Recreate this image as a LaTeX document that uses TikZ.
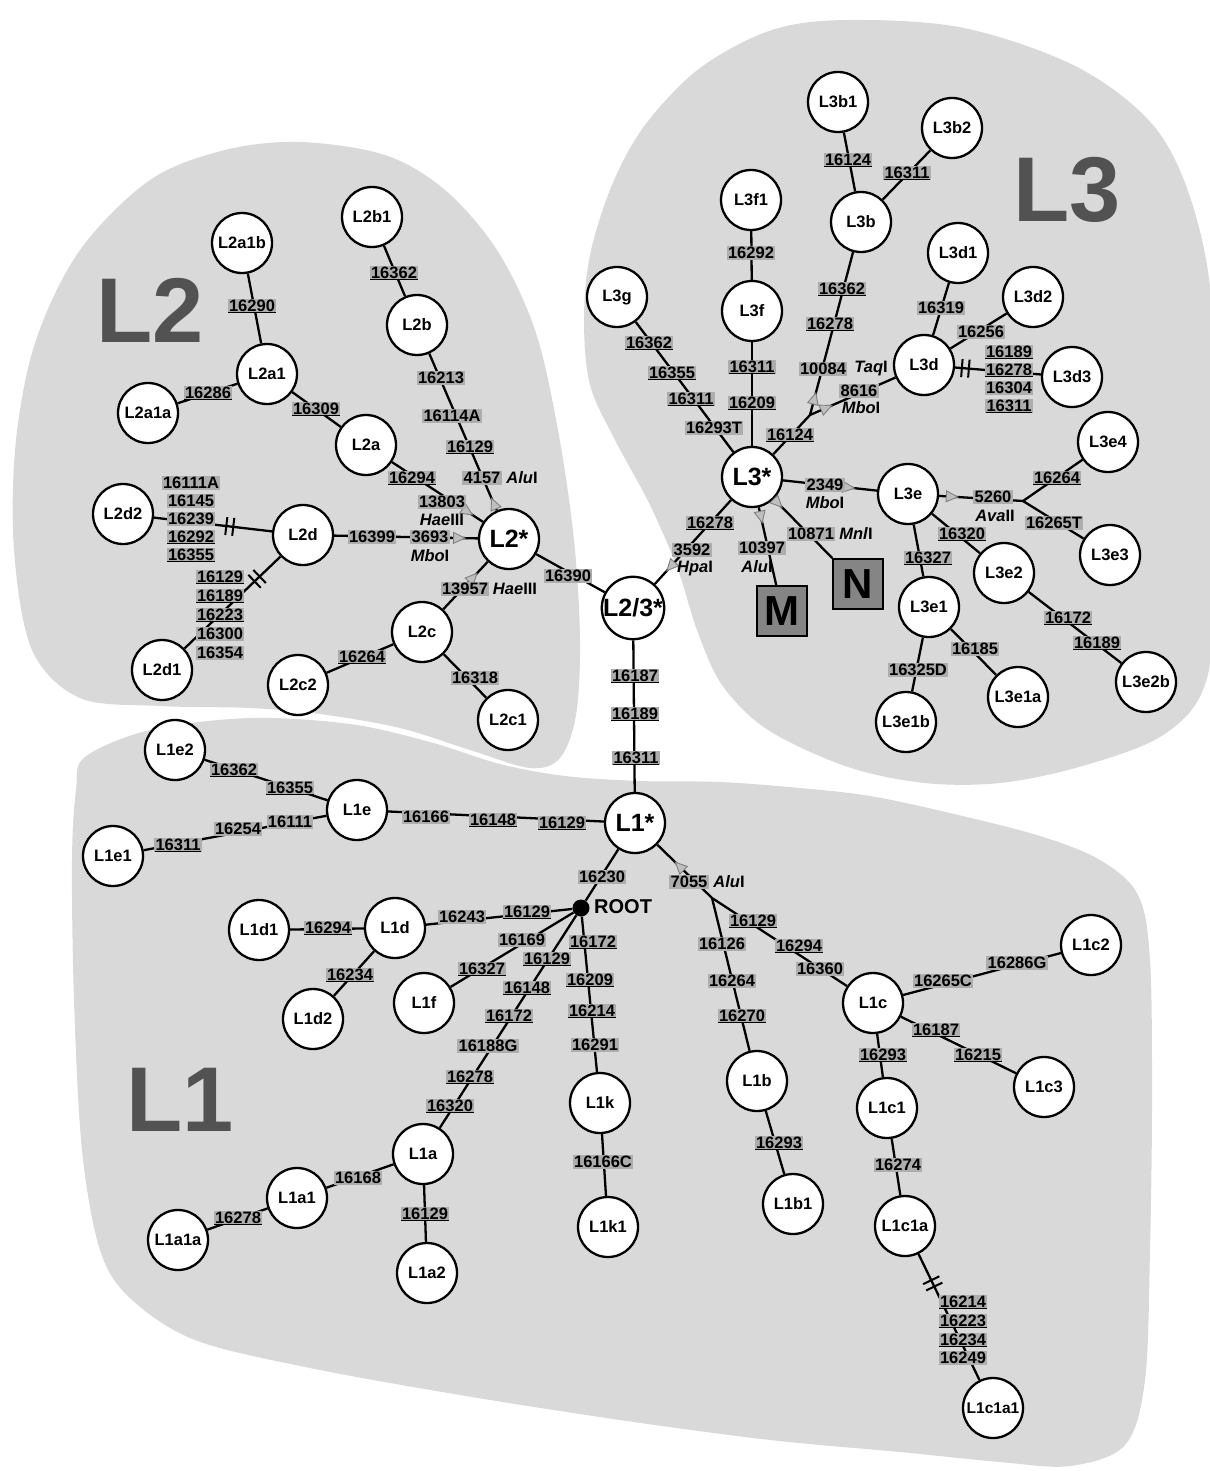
\documentclass[tikz,border=0pt]{standalone}
\usepackage{fontspec}
\setmainfont{Liberation Sans}
\usetikzlibrary{arrows.meta,decorations.markings}

\begin{document}
\begin{tikzpicture}[x=1pt,y=-1pt,
  hap/.style={circle, draw, line width=2.3pt, fill=white, minimum size=60pt, inner sep=0pt,
    font=\fontsize{16.5}{18}\selectfont\bfseries},
  star/.style={hap, font=\fontsize{25}{27}\selectfont\bfseries},
  rootdot/.style={circle, fill=black, minimum size=17pt, inner sep=0pt},
  edge/.style={line width=2.3pt},
  mutn/.style={fill=black!32, inner xsep=1.2pt, inner ysep=1.5pt,
    font=\fontsize{16.5}{18}\selectfont\bfseries},
  mutu/.style={mutn, path picture={\draw[line width=1.4pt]
    ([xshift=0.5pt,yshift=1.1pt]path picture bounding box.south west) --
    ([xshift=-0.5pt,yshift=1.1pt]path picture bounding box.south east);}},
  enz/.style={inner sep=1pt, font=\fontsize{16.5}{18}\selectfont\bfseries},
  sqbox/.style={draw, line width=2pt, fill=black!48, minimum size=50pt, inner sep=0pt,
    font=\fontsize{42}{42}\selectfont\bfseries},
  clade/.style={text=black!68, inner sep=0pt, font=\fontsize{92}{92}\selectfont\bfseries},
  blob/.style={fill=black!15},
  tmark/.style={postaction={decorate, decoration={markings, mark=at position #1 with
    {\arrow{Triangle[length=13pt,width=12pt,fill=black!25,color=black!50,line width=0.9pt]}}}}},
  tmarkrev/.style={postaction={decorate, decoration={markings, mark=at position #1 with
    {\arrowreversed{Triangle[length=13pt,width=12pt,fill=black!25,color=black!50,line width=0.9pt]}}}}},
  cutmark/.style={postaction={decorate, decoration={markings, mark=at position #1 with
    {\draw[line width=2pt] (-3.5pt,-9pt) -- (-3.5pt,9pt) (3.5pt,-9pt) -- (3.5pt,9pt);}}}},
]
\useasboundingbox (0,0) rectangle (1209,1471);

% shaded clade regions
\fill[blob] plot[smooth cycle, tension=0.55] coordinates {
  (848,20) (964,28) (1079,68) (1157,130) (1197,220) (1214,340) (1214,600) (1203,690)
  (1160,737) (1079,767) (1000,783) (925,783) (848,767) (768,730) (722,685) (697,630)
  (678,570) (650,505) (615,440) (590,385) (584,320) (590,255) (612,185) (645,125)
  (700,68) (772,30)};
\fill[blob] plot[smooth cycle, tension=0.55] coordinates {
  (300,142) (385,155) (445,190) (497,250) (535,330) (558,430) (574,540) (580,640)
  (576,715) (560,758) (530,768) (470,750) (400,728) (320,714) (250,708) (160,706)
  (80,698) (32,650) (14,550) (16,440) (36,340) (80,250) (150,180) (225,150)};
\fill[blob] plot[smooth cycle, tension=0.55] coordinates {
  (85,757) (150,730) (250,718) (350,724) (430,742) (500,764) (565,776) (640,781)
  (720,782) (800,788) (870,796) (950,813) (1040,836) (1100,860) (1138,895) (1150,960)
  (1152,1100) (1150,1250) (1145,1380) (1125,1445) (1070,1466) (1000,1462) (900,1452)
  (770,1440) (620,1420) (460,1395) (310,1368) (195,1340) (130,1298) (100,1250)
  (82,1150) (74,1000) (72,860) (76,790)};

% clade names
\node[clade] (cL2) at (150,310) {L2};
\node[clade] (cL3) at (1067,190) {L3};
\node[clade] (cL1) at (180,1100) {L1};

% L2 haplogroups
\node[hap] (L2a1b) at (242,243) {L2a1b};
\node[hap] (L2b1) at (372,217) {L2b1};
\node[hap] (L2b) at (417,325) {L2b};
\node[hap] (L2a1) at (267,374) {L2a1};
\node[hap] (L2a1a) at (148,413) {L2a1a};
\node[hap] (L2a) at (366,445) {L2a};
\node[hap] (L2d2) at (123,514) {L2d2};
\node[hap] (L2d) at (303,535) {L2d};
\node[star] (s2) at (509,539) {L2*};
\node[hap] (L2c) at (422,632) {L2c};
\node[hap] (L2c2) at (298,685) {L2c2};
\node[hap] (L2c1) at (508,720) {L2c1};
\node[hap] (L2d1) at (162,670) {L2d1};
\node[star] (s23) at (633,608) {L2/3*};
\node[star] (s1) at (635,823) {L1*};

% L3 haplogroups
\node[hap] (L3b1) at (838,102) {L3b1};
\node[hap] (L3b2) at (952,128) {L3b2};
\node[hap] (L3f1) at (751,200) {L3f1};
\node[hap] (L3b) at (861,222) {L3b};
\node[hap] (L3d1) at (958,253) {L3d1};
\node[hap] (L3g) at (617,297) {L3g};
\node[hap] (L3f) at (752,311) {L3f};
\node[hap] (L3d2) at (1033,297) {L3d2};
\node[hap] (L3d) at (924,365) {L3d};
\node[hap] (L3d3) at (1072,377) {L3d3};
\node[star] (s3) at (752,477) {L3*};
\node[hap] (L3e) at (908,494) {L3e};
\node[hap] (L3e4) at (1108,442) {L3e4};
\node[hap] (L3e3) at (1110,555) {L3e3};
\node[hap] (L3e2) at (1004,573) {L3e2};
\node[hap] (L3e1) at (929,607) {L3e1};
\node[hap] (L3e1a) at (1018,697) {L3e1a};
\node[hap] (L3e1b) at (906,722) {L3e1b};
\node[hap] (L3e2b) at (1146,682) {L3e2b};
\node[sqbox] (M) at (782,611) {M};
\node[sqbox] (N) at (858,584) {N};
\coordinate (J3) at (810,415);
\coordinate (J5) at (1023,501);

% L1 haplogroups
\node[hap] (L1e2) at (175,750) {L1e2};
\node[hap] (L1e) at (357,810) {L1e};
\node[hap] (L1e1) at (113,856) {L1e1};
\node[rootdot] (root) at (581,908) {};
\node[enz, font=\fontsize{20}{22}\selectfont\bfseries, anchor=west] (rootlbl) at (593,907) {ROOT};
\coordinate (J1) at (712,898);
\node[hap] (L1d1) at (259,930) {L1d1};
\node[hap] (L1d) at (395,928) {L1d};
\node[hap] (L1d2) at (313,1019) {L1d2};
\node[hap] (L1f) at (424,1003) {L1f};
\node[hap] (L1a) at (423,1154) {L1a};
\node[hap] (L1a1) at (297,1198) {L1a1};
\node[hap] (L1a1a) at (178,1240) {L1a1a};
\node[hap] (L1a2) at (427,1273) {L1a2};
\node[hap] (L1k) at (600,1103) {L1k};
\node[hap] (L1k1) at (608,1227) {L1k1};
\node[hap] (L1b) at (757,1081) {L1b};
\node[hap] (L1b1) at (793,1204) {L1b1};
\node[hap] (L1c) at (873,1003) {L1c};
\node[hap] (L1c1) at (887,1108) {L1c1};
\node[hap] (L1c1a) at (905,1226) {L1c1a};
\node[hap, font=\fontsize{15.5}{17}\selectfont\bfseries] (L1c1a1) at (993,1408) {L1c1a1};
\node[hap] (L1c2) at (1091,945) {L1c2};
\node[hap] (L1c3) at (1044,1087) {L1c3};

% L2 links
\draw[edge] (L2a1b) -- (L2a1);
\draw[edge] (L2a1a) -- (L2a1);
\draw[edge] (L2a1) -- (L2a);
\draw[edge, tmark=0.896] (L2a) -- (s2);
\draw[edge] (L2b1) -- (L2b);
\draw[edge, tmarkrev=0.917] (L2b) -- (s2);
\draw[edge, cutmark=0.642] (L2d2) -- (L2d);
\draw[edge, tmark=0.918] (L2d) -- (s2);
\draw[edge, cutmark=0.244] (L2d) -- (L2d1);
\draw[edge, tmark=0.774] (L2c) -- (s2);
\draw[edge] (L2c) -- (L2c2);
\draw[edge] (L2c) -- (L2c1);
\draw[edge] (s2) -- (s23);
\draw[edge] (s23) -- (s1);

% L3 links
\draw[edge] (L3b1) -- (L3b);
\draw[edge] (L3b2) -- (L3b);
\draw[edge, tmark=0.142] (J3) -- (L3b);
\draw[edge, tmark=0.266] (J3) -- (L3d);
\draw[edge] (s3) -- (J3);
\draw[edge] (L3f1) -- (L3f);
\draw[edge] (L3f) -- (s3);
\draw[edge] (L3g) -- (s3);
\draw[edge] (L3d1) -- (L3d);
\draw[edge] (L3d2) -- (L3d);
\draw[edge, cutmark=0.12] (L3d) -- (L3d3);
\draw[edge, tmark=0.77] (s3) -- (L3e);
\draw[edge, tmark=0.235] (L3e) -- (J5);
\draw[edge] (J5) -- (L3e4);
\draw[edge] (J5) -- (L3e3);
\draw[edge] (L3e) -- (L3e2);
\draw[edge] (L3e) -- (L3e1);
\draw[edge] (L3e2) -- (L3e2b);
\draw[edge] (L3e1) -- (L3e1a);
\draw[edge] (L3e1) -- (L3e1b);
\draw[edge, tmark=0.21] (s3) -- (M);
\draw[edge, tmark=0.15] (s3) -- (N);
\draw[edge, tmark=0.851] (s3) -- (s23);

% L1 links
\draw[edge] (L1e2) -- (L1e);
\draw[edge] (L1e1) -- (L1e);
\draw[edge] (L1e) -- (s1);
\draw[edge] (s1) -- (root);
\draw[edge, tmark=0.686] (J1) -- (s1);
\draw[edge] (J1) -- (L1b);
\draw[edge] (J1) -- (L1c);
\draw[edge] (L1b) -- (L1b1);
\draw[edge] (L1c) -- (L1c2);
\draw[edge] (L1c) -- (L1c3);
\draw[edge] (L1c) -- (L1c1);
\draw[edge] (L1c1) -- (L1c1a);
\draw[edge, cutmark=0.233] (L1c1a) -- (L1c1a1);
\draw[edge] (root) -- (L1d);
\draw[edge] (L1d) -- (L1d1);
\draw[edge] (L1d) -- (L1d2);
\draw[edge] (root) -- (L1f);
\draw[edge] (root) -- (L1a);
\draw[edge] (root) -- (L1k);
\draw[edge] (L1k) -- (L1k1);
\draw[edge] (L1a) -- (L1a1);
\draw[edge] (L1a1) -- (L1a1a);
\draw[edge] (L1a) -- (L1a2);

% mutation labels (u = underlined, n = plain)
\foreach \s/\x/\y/\t [count=\i] in {
  u/252/306/16290, u/394/273/16362, u/208/393/16286, u/316/409/16309,
  n/441/378/16213, n/452/416/16114A, u/470/447/16129, u/412/478/16294,
  n/482/478/4157, n/442/502/13803, n/372/537/16399, n/430/537/3693,
  n/465/589/13957, n/568/576/16390,
  n/191/483/16111A, n/191/501/16145, n/191/519/16239, u/191/537/16292, u/191/555/16355,
  u/220/577/16129, u/220/596/16189, u/220/615/16223, n/220/634/16300, n/220/653/16354,
  u/362/657/16264, n/475/678/16318,
  u/635/676/16187, u/635/714/16189, u/636/758/16311,
  u/848/160/16124, u/907/173/16311, n/751/253/16292, u/842/289/16362, u/830/324/16278,
  n/823/369/10084, n/859/391/8616, n/941/308/16319, n/981/332/16256,
  u/1009/352/16189, u/1009/370/16278, n/1009/388/16304, u/1009/406/16311,
  u/649/343/16362, u/672/373/16355, u/691/399/16311, n/714/428/16293T,
  u/752/367/16311, u/752/403/16209, u/790/435/16124,
  n/825/485/2349, u/710/523/16278, n/692/550/3592, n/762/548/10397, n/811/534/10871,
  n/993/497/5260, u/1057/478/16264, n/1054/523/16265T, u/962/534/16320, u/928/558/16327,
  u/1068/618/16172, u/1097/643/16189, n/975/649/16185, n/918/670/16325D,
  u/234/770/16362, u/290/788/16355, u/178/845/16311, n/238/829/16254, n/290/822/16111,
  n/426/817/16166, u/493/820/16148, u/562/823/16129, n/602/877/16230, n/689/882/7055,
  n/462/917/16243, u/527/912/16129, u/328/928/16294, u/350/975/16234,
  n/522/940/16169, u/482/969/16327,
  u/547/959/16129, u/527/988/16148, u/509/1016/16172, n/488/1046/16188G,
  u/470/1077/16278, u/450/1106/16320,
  u/593/942/16172, u/590/980/16209, u/592/1011/16214, n/595/1045/16291, n/603/1162/16166C,
  n/358/1178/16168, u/238/1218/16278, u/425/1214/16129,
  u/753/921/16129, n/722/944/16126, u/799/946/16294, n/732/981/16264, n/820/969/16360,
  u/742/1016/16270, u/779/1143/16293,
  n/943/981/16265C, n/1017/963/16286G, u/936/1030/16187, u/978/1055/16215,
  u/883/1055/16293, n/898/1165/16274,
  u/963/1302/16214, u/963/1321/16223, u/963/1340/16234, n/963/1358/16249}
  \node[mut\s] (m\i) at (\x,\y) {\t};

% restriction enzymes
\foreach \x/\y/\a/\b [count=\i] in {
  522/478/Alu/I, 442/520/Hae/III, 430/556/Mbo/I, 515/589/Hae/III,
  871/369/Taq/I, 861/408/Mbo/I, 825/503/Mbo/I, 695/569/Hpa/I,
  757/567/Alu/I, 856/534/Mnl/I, 995/516/Ava/II, 729/882/Alu/I}
  \node[enz] (e\i) at (\x,\y) {\textit{\a}\b};
\end{tikzpicture}
\end{document}
